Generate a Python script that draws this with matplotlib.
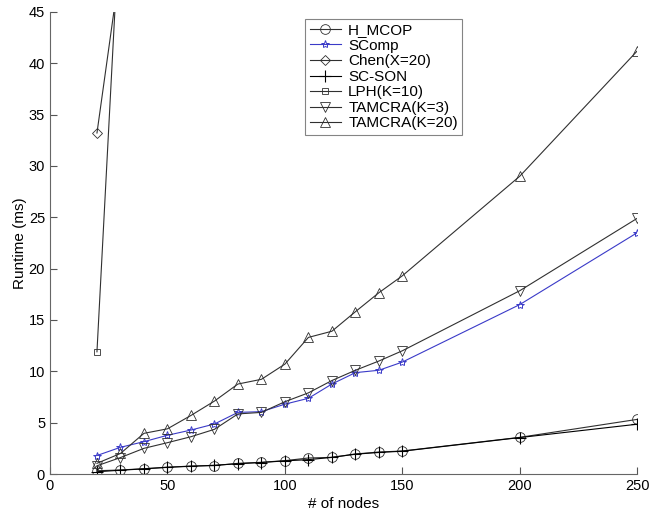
import matplotlib.pyplot as plt

plt.rcParams['font.family'] = ['Liberation Sans', 'DejaVu Sans']

nodes = [20, 30, 40, 50, 60, 70, 80, 90, 100, 110, 120, 130, 140, 150, 200, 250]

h_mcop = [0.32, 0.39, 0.52, 0.65, 0.78, 0.82, 1.04, 1.14, 1.3, 1.56, 1.62, 1.95, 2.14, 2.24, 3.57, 5.32]
scomp = [1.8, 2.6, 3.15, 3.77, 4.28, 4.87, 6.0, 6.07, 6.8, 7.37, 8.76, 9.87, 10.1, 10.9, 16.5, 23.5]
sc_son = [0.22, 0.37, 0.5, 0.66, 0.75, 0.85, 1.0, 1.12, 1.28, 1.4, 1.62, 1.93, 2.1, 2.22, 3.55, 4.85]
tamcra3 = [0.8, 1.6, 2.5, 3.05, 3.63, 4.35, 5.85, 6.0, 7.04, 7.9, 9.1, 10.1, 11.0, 12.0, 17.85, 24.9]
tamcra20 = [1.04, 2.0, 3.96, 4.4, 5.7, 7.1, 8.76, 9.22, 10.7, 13.3, 13.9, 15.8, 17.65, 19.3, 29.0, 41.2]

chen_nodes = [20, 30]
chen = [33.2, 49.6]
lph_nodes = [20, 30]
lph = [11.9, 55.4]

line_col = '#303030'
ms = 6

fig = plt.figure(figsize=(6.49, 5.13), dpi=100)
ax = fig.add_axes([0.077, 0.076, 0.905, 0.901])

ax.plot(nodes, h_mcop, color=line_col, lw=0.8, marker='o', ms=ms + 1, mfc='none', mew=0.6, label='H_MCOP')
ax.plot(nodes, scomp, color='#3a3ac8', lw=0.8, marker='*', ms=ms, mfc='none', mew=0.7, label='SComp')
ax.plot(chen_nodes, chen, color=line_col, lw=0.8, marker='D', ms=ms - 1, mfc='none', mew=0.6, label='Chen(X=20)')
ax.plot(nodes, sc_son, color='black', lw=0.8, marker='+', ms=ms + 2, mew=0.8, label='SC-SON')
ax.plot(lph_nodes, lph, color=line_col, lw=0.8, marker='s', ms=ms - 1, mfc='none', mew=0.6, label='LPH(K=10)')
ax.plot(nodes, tamcra3, color=line_col, lw=0.8, marker='v', ms=ms + 1, mfc='none', mew=0.6, label='TAMCRA(K=3)')
ax.plot(nodes, tamcra20, color=line_col, lw=0.8, marker='^', ms=ms + 1, mfc='none', mew=0.6, label='TAMCRA(K=20)')

ax.set_xlim(0, 250)
ax.set_ylim(0, 45)
ax.set_xticks([0, 50, 100, 150, 200, 250])
ax.set_yticks(range(0, 46, 5))
ax.tick_params(direction='in', length=5, labelsize=10.5, colors='#555555', labelcolor='black')
ax.spines['top'].set_visible(False)
ax.spines['right'].set_visible(False)
ax.spines['left'].set_color('#666666')
ax.spines['bottom'].set_color('#666666')

ax.set_xlabel('# of nodes', fontsize=11, labelpad=3)
ax.set_ylabel('Runtime (ms)', fontsize=11, labelpad=1)

leg = ax.legend(loc='upper left', bbox_to_anchor=(0.435, 0.985), fontsize=11, frameon=True,
                fancybox=False, edgecolor='#666666', handlelength=2.0, borderpad=0.3,
                labelspacing=0.1, handletextpad=0.5, borderaxespad=0)
leg.get_frame().set_linewidth(0.8)

plt.savefig('out.png')
